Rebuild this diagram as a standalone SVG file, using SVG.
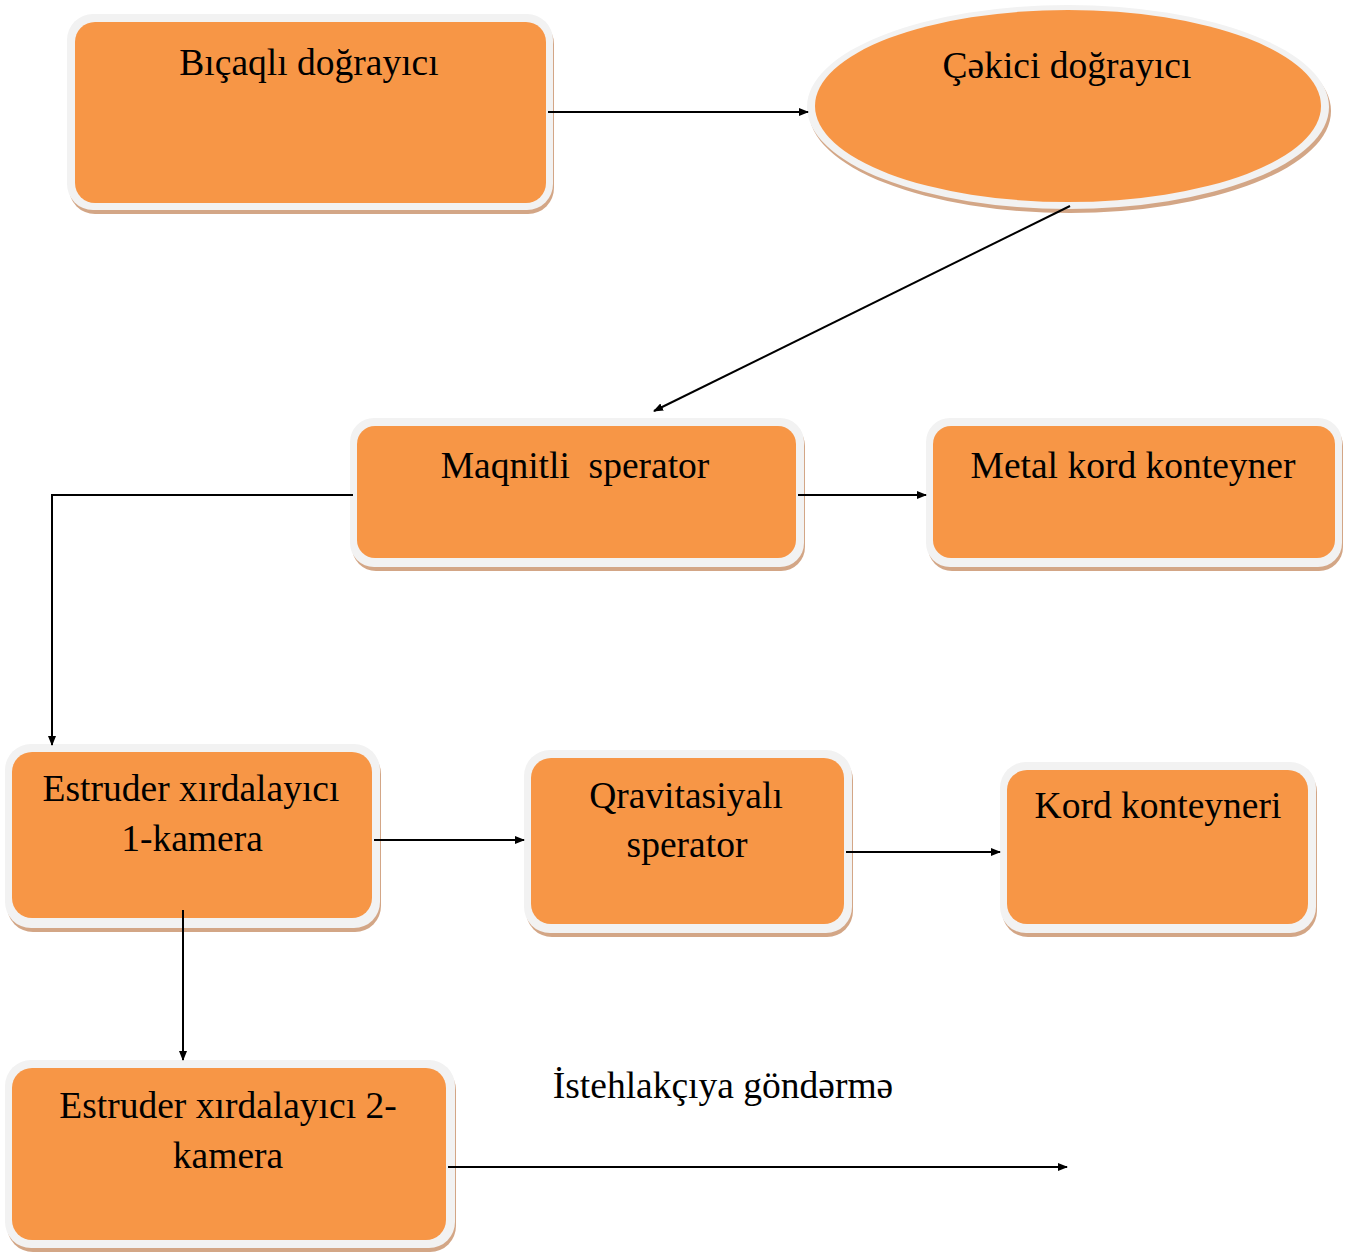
<svg xmlns="http://www.w3.org/2000/svg" width="1354" height="1252" viewBox="0 0 1354 1252">
<defs>
<style>
.sh{fill:#d3a686}
.bd{fill:#f2f2f2}
.fl{fill:#f79646}
.t{font-family:"Liberation Serif","Times New Roman",serif;font-size:37.5px;fill:#000;text-anchor:middle}
.c{stroke:#000;stroke-width:2;fill:none}
</style>
<marker id="a" markerWidth="10" markerHeight="8" refX="9" refY="4" orient="auto" markerUnits="userSpaceOnUse">
<path d="M0,0 L10,4 L0,8 Z" fill="#000"/>
</marker>
</defs>
<rect width="1354" height="1252" fill="#fff"/>
<g id="n1">
<rect class="sh" x="69" y="18" width="485" height="196" rx="26"/>
<rect class="bd" x="67" y="14" width="486" height="196" rx="26"/>
<rect class="fl" x="75" y="22" width="471" height="181" rx="20"/>
<text class="t" x="309" y="75">Bıçaqlı doğrayıcı</text>
</g>
<g id="n2">
<ellipse class="sh" cx="1070" cy="111" rx="261" ry="102"/>
<ellipse class="bd" cx="1068" cy="107" rx="261" ry="102"/>
<ellipse class="fl" cx="1068" cy="106" rx="253" ry="96"/>
<text class="t" x="1067" y="78">Çəkici doğrayıcı</text>
</g>
<g id="n3">
<rect class="sh" x="352" y="422" width="453" height="149" rx="24"/>
<rect class="bd" x="350" y="418" width="454" height="149" rx="24"/>
<rect class="fl" x="357" y="426" width="439" height="132" rx="18"/>
<text class="t" x="575" y="478" xml:space="preserve">Maqnitli  sperator</text>
</g>
<g id="n4">
<rect class="sh" x="928" y="422" width="415" height="149" rx="24"/>
<rect class="bd" x="926" y="418" width="416" height="149" rx="24"/>
<rect class="fl" x="933" y="426" width="402" height="132" rx="18"/>
<text class="t" x="1133" y="478">Metal kord konteyner</text>
</g>
<g id="n5">
<rect class="sh" x="7" y="748" width="374" height="184" rx="26"/>
<rect class="bd" x="5" y="744" width="375" height="184" rx="26"/>
<rect class="fl" x="12" y="752" width="360" height="166" rx="20"/>
<text class="t" x="191" y="801">Estruder xırdalayıcı</text>
<text class="t" x="192" y="851">1-kamera</text>
</g>
<g id="n6">
<rect class="sh" x="526" y="754" width="327" height="183" rx="26"/>
<rect class="bd" x="524" y="750" width="328" height="183" rx="26"/>
<rect class="fl" x="531" y="758" width="313" height="166" rx="20"/>
<text class="t" x="686" y="808">Qravitasiyalı</text>
<text class="t" x="687" y="857">sperator</text>
</g>
<g id="n7">
<rect class="sh" x="1002" y="766" width="315" height="171" rx="26"/>
<rect class="bd" x="1000" y="762" width="316" height="171" rx="26"/>
<rect class="fl" x="1007" y="770" width="301" height="154" rx="20"/>
<text class="t" x="1158" y="818">Kord konteyneri</text>
</g>
<g id="n8">
<rect class="sh" x="7" y="1064" width="449" height="188" rx="26"/>
<rect class="bd" x="5" y="1060" width="450" height="188" rx="26"/>
<rect class="fl" x="12" y="1068" width="434" height="172" rx="20"/>
<text class="t" x="228" y="1118">Estruder xırdalayıcı 2-</text>
<text class="t" x="228" y="1168">kamera</text>
</g>
<text class="t" x="723" y="1098">İstehlakçıya göndərmə</text>
<g id="connectors">
<line class="c" x1="548" y1="112" x2="808" y2="112" marker-end="url(#a)"/>
<line class="c" x1="1070" y1="206" x2="654" y2="411" marker-end="url(#a)"/>
<polyline class="c" points="353,495 52,495 52,745" marker-end="url(#a)"/>
<line class="c" x1="798" y1="495" x2="926" y2="495" marker-end="url(#a)"/>
<line class="c" x1="374" y1="840" x2="524" y2="840" marker-end="url(#a)"/>
<line class="c" x1="846" y1="852" x2="1000" y2="852" marker-end="url(#a)"/>
<line class="c" x1="183" y1="910" x2="183" y2="1060" marker-end="url(#a)"/>
<line class="c" x1="448" y1="1167" x2="1067" y2="1167" marker-end="url(#a)"/>
</g>
</svg>
